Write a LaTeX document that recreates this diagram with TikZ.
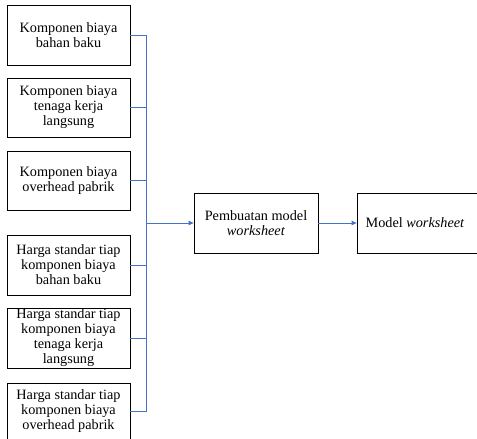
\documentclass[tikz,border=0pt]{standalone}
\usepackage{fontspec}
\setmainfont{Liberation Serif}
\usetikzlibrary{arrows.meta}
\definecolor{lineblue}{RGB}{68,114,196}
\begin{document}
\begin{tikzpicture}[x=1bp,y=-1bp,
  box/.style={draw=black, line width=0.8bp, align=center, inner sep=0pt,
    font=\fontsize{14.3}{15}\selectfont},
  conn/.style={draw=lineblue, line width=0.9bp},
  arr/.style={conn, -{Triangle[length=5bp,width=4.5bp]}}]
\useasboundingbox (0,0) rectangle (477,439);
\node[box, minimum width=123bp, minimum height=60bp] (b1) at (68.5,35) {Komponen biaya\\bahan baku};
\node[box, minimum width=123bp, minimum height=59bp] (b2) at (68.5,107.5) {Komponen biaya\\tenaga kerja\\langsung};
\node[box, minimum width=123bp, minimum height=59bp] (b3) at (68.5,180.5) {Komponen biaya\\overhead pabrik};
\node[box, minimum width=123bp, minimum height=60bp] (b4) at (68.5,265) {Harga standar tiap\\komponen biaya\\bahan baku};
\node[box, minimum width=123bp, minimum height=60bp] (b5) at (68.5,338) {Harga standar tiap\\komponen biaya\\tenaga kerja\\langsung};
\node[box, minimum width=123bp, minimum height=57bp] (b6) at (68.5,411.5) {Harga standar tiap\\komponen biaya\\overhead pabrik};
\node[box, minimum width=124bp, minimum height=60bp] (mid) at (256,223) {Pembuatan model\\\textit{worksheet}};
\node[box, minimum width=124bp, minimum height=60bp] (out) at (419,223) {Model \textit{worksheet}\hspace*{8bp}};
\coordinate (bus) at (146,223);
\draw[conn] (b1.east) -- (b1.east -| bus) -- (b6.east -| bus) -- (b6.east);
\foreach \n in {b2,b3,b4,b5} \draw[conn] (\n.east) -- (\n.east -| bus);
\draw[arr] (bus) -- (mid.west);
\draw[arr] (mid.east) -- (out.west);
\end{tikzpicture}
\end{document}
